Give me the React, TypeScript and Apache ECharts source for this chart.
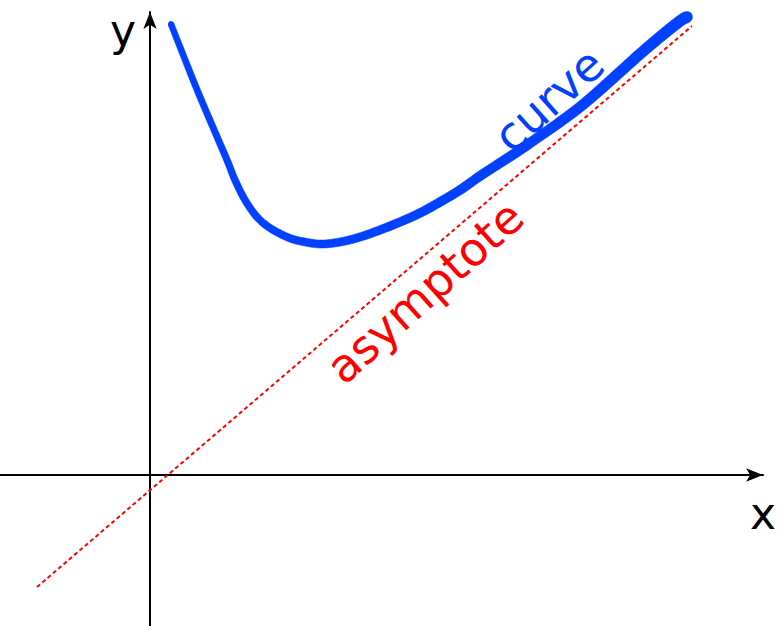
import React, { useEffect, useRef } from "react";
import * as echarts from "echarts";

// Curve points in math coordinates (origin at the axes' crossing)
const curveX = [0.21, 0.32, 0.48, 0.65, 0.77, 0.85, 0.95, 1.07, 1.20, 1.37, 1.50, 1.70, 1.90, 2.10, 2.30, 2.50, 2.70, 2.90, 3.10, 3.30, 3.50, 3.70, 3.90, 4.10, 4.30, 4.50, 4.70, 4.90, 5.10, 5.30, 5.37];
const curveY = [4.51, 4.23, 3.83, 3.43, 3.15, 2.95, 2.75, 2.58, 2.47, 2.38, 2.34, 2.31, 2.33, 2.38, 2.45, 2.53, 2.62, 2.73, 2.85, 2.99, 3.12, 3.25, 3.39, 3.53, 3.68, 3.85, 4.03, 4.21, 4.38, 4.54, 4.58];

// Asymptote end points
const asymX = [-1.13, 5.42];
const asymY = [-1.12, 4.49];

const xRange = [-1.5, 6.13];
const yRange = [-1.51, 4.63];

const BLUE = "#0040ff";
const RED = "#ff0000";
const FONT = "DejaVu Sans";

// Catmull-Rom sampling of pixel points (rendering only)
function catmull(pts: number[][], steps: number): number[][] {
  const out: number[][] = [];
  const n = pts.length;
  for (let i = 0; i < n - 1; i++) {
    const p0 = pts[Math.max(0, i - 1)];
    const p1 = pts[i];
    const p2 = pts[i + 1];
    const p3 = pts[Math.min(n - 1, i + 2)];
    for (let s = 0; s < steps; s++) {
      const t = s / steps;
      const t2 = t * t;
      const t3 = t2 * t;
      const f = (a: number, b: number, c: number, d: number) =>
        0.5 * (2 * b + (-a + c) * t + (2 * a - 5 * b + 4 * c - d) * t2 + (-a + 3 * b - 3 * c + d) * t3);
      out.push([f(p0[0], p1[0], p2[0], p3[0]), f(p0[1], p1[1], p2[1], p3[1])]);
    }
  }
  out.push(pts[n - 1]);
  return out;
}

export default function App() {
  const ref = useRef<HTMLDivElement>(null);
  useEffect(() => {
    if (!ref.current) return;
    const chart = echarts.init(ref.current, undefined, { renderer: "svg" });
    const W0 = 6;
    const W1 = 11.5;
    chart.setOption({
      animation: false,
      grid: { left: 0, right: 16, top: 12, bottom: 0 },
      xAxis: {
        type: "value",
        min: xRange[0],
        max: xRange[1],
        axisLine: {
          onZero: true,
          lineStyle: { color: "#000", width: 2 },
          symbol: ["none", "arrow"],
          symbolSize: [10, 17],
        },
        axisTick: { show: false },
        axisLabel: { show: false },
        splitLine: { show: false },
      },
      yAxis: {
        type: "value",
        min: yRange[0],
        max: yRange[1],
        axisLine: {
          onZero: true,
          lineStyle: { color: "#000", width: 2 },
          symbol: ["none", "arrow"],
          symbolSize: [10, 17],
        },
        axisTick: { show: false },
        axisLabel: { show: false },
        splitLine: { show: false },
      },
      series: [
        {
          type: "line",
          data: [
            [asymX[0], asymY[0]],
            [asymX[1], asymY[1]],
          ],
          showSymbol: false,
          silent: true,
          z: 3,
          lineStyle: { color: RED, width: 2, type: [4, 3] },
        },
        {
          type: "custom",
          coordinateSystem: "cartesian2d",
          silent: true,
          z: 5,
          data: [[curveX[0], curveY[0]]],
          renderItem: (_params: any, api: any) => {
            const raw = curveX.map((x, i) => api.coord([x, curveY[i]]));
            const pts = catmull(raw, 8);
            const n = pts.length;
            const left: number[][] = [];
            const right: number[][] = [];
            for (let i = 0; i < n; i++) {
              const a = pts[Math.max(0, i - 1)];
              const b = pts[Math.min(n - 1, i + 1)];
              let tx = b[0] - a[0];
              let ty = b[1] - a[1];
              const len = Math.hypot(tx, ty) || 1;
              tx /= len;
              ty /= len;
              const nx = -ty;
              const ny = tx;
              const hw = (W0 + (W1 - W0) * (i / (n - 1))) / 2;
              left.push([pts[i][0] + nx * hw, pts[i][1] + ny * hw]);
              right.push([pts[i][0] - nx * hw, pts[i][1] - ny * hw]);
            }
            return {
              type: "group",
              children: [
                {
                  type: "polygon",
                  shape: { points: left.concat(right.slice().reverse()) },
                  style: { fill: BLUE, stroke: BLUE, lineWidth: 0.5 },
                },
                { type: "circle", shape: { cx: pts[0][0], cy: pts[0][1], r: W0 / 2 }, style: { fill: BLUE } },
                { type: "circle", shape: { cx: pts[n - 1][0], cy: pts[n - 1][1], r: W1 / 2 }, style: { fill: BLUE } },
              ],
            };
          },
        },
      ],
      graphic: [
        {
          type: "text",
          x: 123,
          y: 30,
          style: { text: "y", fill: "#000", font: `44px "${FONT}"`, align: "center", verticalAlign: "middle" },
        },
        {
          type: "text",
          x: 763,
          y: 513,
          style: { text: "x", fill: "#000", font: `44px "${FONT}"`, align: "center", verticalAlign: "middle" },
        },
        {
          type: "text",
          x: 549,
          y: 100,
          rotation: (42 * Math.PI) / 180,
          style: { text: "curve", fill: BLUE, font: `46px "${FONT}"`, align: "center", verticalAlign: "middle" },
        },
        {
          type: "text",
          x: 425,
          y: 292,
          rotation: (42 * Math.PI) / 180,
          style: { text: "asymptote", fill: RED, font: `46px "${FONT}"`, align: "center", verticalAlign: "middle" },
        },
      ],
    });
    return () => chart.dispose();
  }, []);
  return <div ref={ref} style={{ position: "fixed", left: 0, top: 0, width: 779, height: 626, background: "#fff" }} />;
}
